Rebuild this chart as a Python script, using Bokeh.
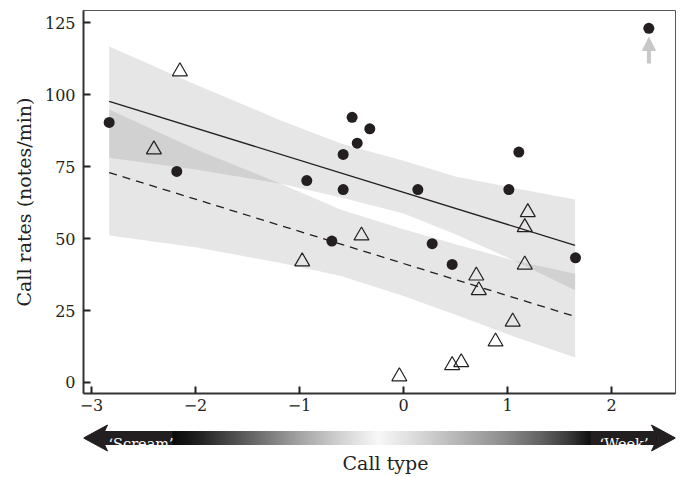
import numpy as np
from bokeh.plotting import figure
from bokeh.models import Range1d, FixedTicker, Arrow, NormalHead
from bokeh.layouts import column
from bokeh.embed import file_html
from bokeh.resources import INLINE
from bokeh.core.properties import value

# ---------------- data ----------------
dot_x = [-2.83, -2.18, -0.93, -0.58, -0.58, -0.494, -0.445, -0.324, 0.138,
         -0.689, 0.276, 0.468, 1.013, 1.109, 1.654, 2.359]
dot_y = [90.3, 73.3, 70.1, 79.2, 67.0, 92.1, 83.1, 88.1, 67.0,
         49.1, 48.2, 41.0, 67.0, 80.0, 43.3, 123.0]

tri_x = [-2.15, -2.40, -0.974, -0.404, -0.04, 0.468, 0.555, 0.70, 0.724,
         1.05, 0.885, 1.166, 1.195, 1.166]
tri_y = [108.0, 80.9, 42.0, 51.0, 2.1, 6.0, 7.0, 37.1, 32.0,
         21.1, 14.2, 40.9, 59.1, 53.9]

fit_x = [-2.83, 1.65]
solid_fit = [97.6, 47.6]
dashed_fit = [72.9, 22.9]

band_x = [-2.83, -2.0, -1.18, -0.6, 0.0, 0.5, 1.06, 1.65]
solid_hi = [116.7, 103.5, 91.0, 83.0, 77.0, 71.5, 67.5, 63.5]
solid_lo = [78.0, 74.0, 69.0, 64.2, 58.7, 51.5, 42.4, 32.0]
dashed_hi = [94.8, 81.0, 69.0, 60.0, 53.2, 48.0, 42.4, 37.8]
dashed_lo = [51.0, 47.0, 41.5, 37.0, 30.0, 23.5, 16.0, 8.7]

outlier_arrow_x = 2.36
outlier_arrow_y = [110.8, 119.8]

x_ticks = [-3, -2, -1, 0, 1, 2]
x_tick_labels = ["\u22123", "\u22122", "\u22121", "0", "1", "2"]
y_ticks = [0, 25, 50, 75, 100, 125]

y_label = "Call rates (notes/min)"
x_label = "Call type"
left_end_label = "\u2018Scream\u2019"
right_end_label = "\u2018Week\u2019"

INK = "#231f20"
FONT = "DejaVu Serif"

# ---------------- main plot ----------------
p = figure(width=680, height=420,
           x_range=Range1d(-3.0769, 2.6154), y_range=Range1d(-3.82, 129.17),
           output_backend="svg", toolbar_location=None,
           min_border_left=83, min_border_right=5,
           min_border_top=10, min_border_bottom=27)
p.grid.visible = False
p.outline_line_color = "#555555"
p.outline_line_width = 1
p.background_fill_color = "white"
p.border_fill_color = "white"

p.varea(x=band_x, y1=solid_lo, y2=solid_hi, fill_color="#636466", fill_alpha=0.16)
p.varea(x=band_x, y1=dashed_lo, y2=dashed_hi, fill_color="#636466", fill_alpha=0.16)

p.line(fit_x, solid_fit, line_color=INK, line_width=1.3)
p.line(fit_x, dashed_fit, line_color=INK, line_width=1.3, line_dash="8 6")

p.scatter(dot_x, dot_y, marker="circle", size=11, fill_color=INK, line_color=None)
p.scatter(tri_x, tri_y, marker="triangle", size=15, fill_color=None,
          line_color=INK, line_width=1.2)

p.add_layout(Arrow(end=NormalHead(size=13, fill_color="#c8c8c8", line_color="#c8c8c8"),
                   x_start=outlier_arrow_x, y_start=outlier_arrow_y[0],
                   x_end=outlier_arrow_x, y_end=outlier_arrow_y[1],
                   line_color="#c8c8c8", line_width=4))

p.xaxis.ticker = FixedTicker(ticks=x_ticks)
p.xaxis.major_label_overrides = dict(zip(x_ticks, x_tick_labels))
p.yaxis.ticker = FixedTicker(ticks=y_ticks)
for ax in (p.xaxis[0], p.yaxis[0]):
    ax.major_tick_in = 7
    ax.major_tick_out = 0
    ax.minor_tick_line_color = None
    ax.major_tick_line_width = 2
    ax.major_tick_line_color = INK
    ax.axis_line_width = 2
    ax.axis_line_color = "#333333"
    ax.major_label_text_font = FONT
    ax.major_label_text_font_size = "16px"
    ax.major_label_text_color = INK
p.xaxis.major_label_standoff = 5
p.yaxis.major_label_standoff = 8
p.yaxis.axis_label = y_label
p.yaxis.axis_label_text_font = FONT
p.yaxis.axis_label_text_font_size = "19px"
p.yaxis.axis_label_text_font_style = "normal"
p.yaxis.axis_label_text_color = INK
p.yaxis.axis_label_standoff = 7

# ---------------- call-type gradient arrow (page-pixel coordinates) ----------------
q = figure(width=680, height=57, x_range=Range1d(83, 675), y_range=Range1d(477, 420),
           output_backend="svg", toolbar_location=None,
           min_border_left=83, min_border_right=5, min_border_top=0, min_border_bottom=0,
           x_axis_location=None, y_axis_location=None)
q.grid.visible = False
q.outline_line_color = None
q.background_fill_color = "white"
q.border_fill_color = "white"

grad_x = [100, 172, 200, 250, 300, 340, 378, 420, 460, 500, 540, 570, 590, 660]
grad_v = [0, 10, 35, 100, 165, 210, 248, 215, 180, 145, 100, 55, 15, 0]
xs = np.arange(100, 656, 2.0)
gv = np.interp(xs + 1, grad_x, grad_v).astype(int)
cols = ["#%02x%02x%02x" % (v, v, v) for v in gv]
q.quad(left=xs, right=xs + 2.6, top=430.5, bottom=444.5, fill_color=cols, line_color=None)
q.patch(x=[83, 107, 101, 107], y=[437.5, 424.5, 437.5, 450.5], fill_color=INK, line_color=INK)
q.patch(x=[675, 651, 657, 651], y=[437.5, 424.5, 437.5, 450.5], fill_color=INK, line_color=INK)
q.quad(left=[100], right=[172], top=430.5, bottom=444.5, fill_color=INK, line_color=None)
q.quad(left=[590], right=[656], top=430.5, bottom=444.5, fill_color=INK, line_color=None)

q.text(x=[108], y=[443], text=[left_end_label], text_font=value(FONT), text_font_size="14.5px",
       text_color="white", text_align="left", text_baseline="alphabetic")
q.text(x=[648], y=[443], text=[right_end_label], text_font=value(FONT), text_font_size="14.5px",
       text_color="white", text_align="right", text_baseline="alphabetic")
q.text(x=[385], y=[462], text=[x_label], text_font=value(FONT), text_font_size="19px",
       text_color=INK, text_align="center", text_baseline="alphabetic")

layout = column(p, q, spacing=0)
open("out.html", "w").write(file_html(layout, INLINE))
